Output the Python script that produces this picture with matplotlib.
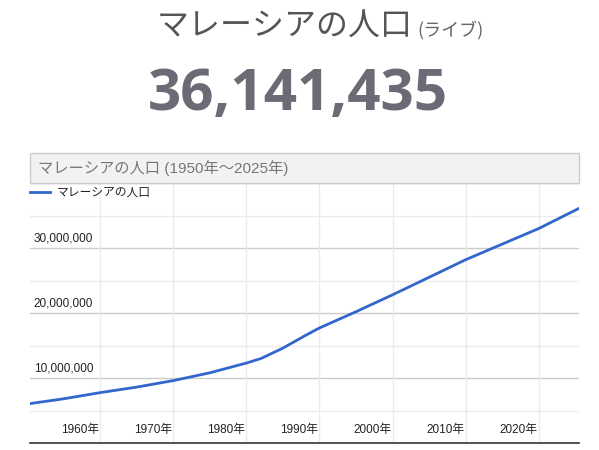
import matplotlib
matplotlib.use("Agg")
import matplotlib.pyplot as plt
from matplotlib.patches import Rectangle

plt.rcParams['font.family'] = ['Liberation Sans', 'Noto Sans CJK JP', 'DejaVu Sans']

years = [1950, 1955, 1960, 1965, 1970, 1975, 1980, 1982, 1985, 1988, 1990, 1995, 2000, 2005, 2010, 2015, 2020, 2025.5]
pop = [6.0, 6.8, 7.75, 8.6, 9.6, 10.8, 12.3, 13.0, 14.6, 16.5, 17.7, 20.2, 22.8, 25.5, 28.2, 30.6, 33.0, 36.1]
pop = [p * 1e6 for p in pop]
xticks = [1960, 1970, 1980, 1990, 2000, 2010, 2020]
xlabels = [f"{y}年" for y in xticks]
ymajor = [10e6, 20e6, 30e6]
ylabels = ["10,000,000", "20,000,000", "30,000,000"]

W, H = 599, 450
fig = plt.figure(figsize=(W/100, H/100), dpi=100)
ax = fig.add_axes([30/W, 7/H, 549/W, 260/H])
ax.set_xlim(1950.4, 2025.5)
ax.set_ylim(0, 40e6)
for y in [5e6, 15e6, 25e6, 35e6]:
    ax.axhline(y, color='#ebebeb', lw=1, zorder=0)
for y in ymajor + [40e6]:
    ax.axhline(y, color='#cccccc', lw=1, zorder=0)
for x in xticks:
    ax.axvline(x, color='#ebebeb', lw=1, zorder=0)
ax.plot(years, pop, color='#3366cc', lw=2, zorder=3)
for y, l in zip(ymajor, ylabels):
    ax.text(1950.4 + 0.5, y + 0.6e6, l, fontsize=8.5, color='#222222', va='bottom', ha='left', zorder=4)
ax.set_xticks(xticks)
ax.set_xticklabels([])
for x, l in zip(xticks, xlabels):
    ax.text(x - 0.2, 1.0e6, l, fontsize=8.5, color='#222222', ha='right', va='bottom', zorder=4)
ax.set_yticks([])
ax.tick_params(axis='x', length=0)
for s in ['top', 'left', 'right']:
    ax.spines[s].set_visible(False)
ax.spines['bottom'].set_color('#333333')
ax.spines['bottom'].set_linewidth(1.2)
# legend
ax.plot([1950.4, 1953.2], [38.6e6, 38.6e6], color='#3366cc', lw=2, clip_on=False)
ax.text(1954.0, 38.6e6, "マレーシアの人口", fontsize=8.5, color='#222222', va='center')

# chart title box
fig.patches.append(Rectangle((30/W, (450-183)/H), 549/W, 30/H, transform=fig.transFigure,
                             facecolor='#f2f2f2', edgecolor='#cccccc', lw=1))
fig.text(38/W, (450-168)/H, "マレーシアの人口 (1950年～2025年)", fontsize=11, color='#777777', va='center')

fig.text(413/W, (450-27)/H, "マレーシアの人口", fontsize=23, color='#555555', ha='right', va='center',
         family=['Noto Sans CJK JP'])
fig.text(417/W, (450-31)/H, "(ライブ)", fontsize=13, color='#666666', ha='left', va='center',
         family=['Noto Sans CJK JP'])
fig.text(298/W, (450-95)/H, "36,141,435", fontsize=42, fontweight='bold', color='#6b6b75',
         ha='center', va='center', family=['Open Sans', 'DejaVu Sans'])

fig.savefig("out.png", dpi=100)
